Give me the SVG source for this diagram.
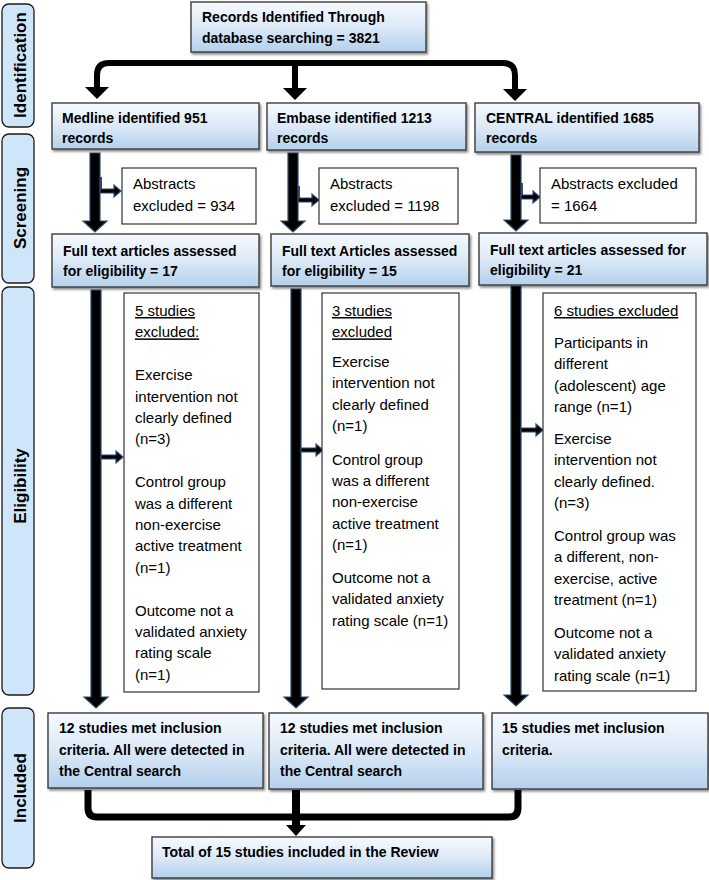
<svg xmlns="http://www.w3.org/2000/svg" width="709" height="880" viewBox="0 0 709 880">
<style>
text{font-family:"Liberation Sans",Arial,sans-serif;fill:#000}
.b{font-weight:bold;font-size:14px}
.r{font-size:15px}
.side{font-weight:bold;font-size:17px;text-anchor:middle}
.u{text-decoration:underline}
.lab{fill:#cfe6fa;stroke:#1a1a1a;stroke-width:1.3}
.nb{fill:url(#g);stroke:#3c3c3c;stroke-width:1.4;filter:url(#sh)}
.wb{fill:#fff;stroke:#333;stroke-width:1.2}
.shaft{fill:#000;stroke:#2c4d70;stroke-width:1.2}
.stub{fill:none;stroke:#2c4d70;stroke-width:2}
.line{fill:none;stroke:#000}
.head{fill:#000}
</style>
<defs>
<linearGradient id="g" x1="0" y1="0" x2="0" y2="1">
<stop offset="0" stop-color="#f6faff"/>
<stop offset="0.5" stop-color="#dce9f7"/>
<stop offset="1" stop-color="#b3d0ec"/>
</linearGradient>
<filter id="sh" x="-5%" y="-10%" width="115%" height="130%">
<feDropShadow dx="1.5" dy="2" stdDeviation="1" flood-color="#000" flood-opacity="0.45"/>
</filter>
</defs>

<!-- Side phase labels -->
<g id="phase-identification">
<rect class="lab" x="2" y="4" width="32" height="123" rx="7"/>
<text class="side" transform="translate(26,65) rotate(-90)">Identification</text>
</g>
<g id="phase-screening">
<rect class="lab" x="2" y="134" width="32" height="149" rx="7"/>
<text class="side" transform="translate(26,208) rotate(-90)">Screening</text>
</g>
<g id="phase-eligibility">
<rect class="lab" x="2" y="287" width="32" height="408" rx="7"/>
<text class="side" transform="translate(26,486) rotate(-90)">Eligibility</text>
</g>
<g id="phase-included">
<rect class="lab" x="2" y="708" width="32" height="160" rx="7"/>
<text class="side" transform="translate(26,788) rotate(-90)">Included</text>
</g>

<!-- Connectors -->
<g id="connectors">
<path class="line" stroke-width="6" d="M97,88 V75 Q97,63 109,63 H503 Q515,63 515,75 V89"/>
<path class="line" stroke-width="6" d="M295,63 V89"/>
<polygon class="head" points="85,87 109,87 97,99"/>
<polygon class="head" points="283,88 307,88 295,100"/>
<polygon class="head" points="503,89 527,89 515,101"/>

<!-- screening shafts -->
<polygon class="shaft" points="90,153 100,153 100,221 107,221 95,232 83,221 90,221"/>
<polygon class="shaft" points="288,153 298,153 298,221 305,221 293,232 281,221 288,221"/>
<polygon class="shaft" points="511,155 521,155 521,220 528,220 516,231 504,220 511,220"/>
<path class="stub" d="M101,177 V189"/>
<polygon class="shaft" points="100,189 114,189 114,185 121,191 114,197 114,193 100,193"/>
<path class="stub" d="M299,186 V198"/>
<polygon class="shaft" points="298,198 312,198 312,194 319,200 312,206 312,202 298,202"/>
<path class="stub" d="M522,183 V195"/>
<polygon class="shaft" points="521,195 533,195 533,191 540,197 533,203 533,199 521,199"/>

<!-- eligibility shafts -->
<polygon class="shaft" points="91,290 101,290 101,697 108,697 96,708 84,697 91,697"/>
<polygon class="shaft" points="291,289 301,289 301,697 308,697 296,708 284,697 291,697"/>
<polygon class="shaft" points="511,286 521,286 521,695 528,695 516,706 504,695 511,695"/>
<polygon class="shaft" points="101,455 116,455 116,451 123,457 116,463 116,459 101,459"/>
<polygon class="shaft" points="301,448 316,448 316,444 323,450 316,456 316,452 301,452"/>
<polygon class="shaft" points="521,428 536,428 536,424 543,430 536,436 536,432 521,432"/>

<!-- included to total -->
<path class="line" stroke-width="7" d="M88,790 V808 Q88,817 97,817 H509 Q518,817 518,808 V790"/>
<path class="line" stroke-width="8" d="M296,790 V826"/>
<polygon class="head" points="286,825 306,825 296,836"/>
</g>

<!-- Nodes -->
<g id="records-total">
<rect class="nb" x="191" y="2" width="235" height="50"/>
<text class="b" x="202" y="22">Records Identified Through</text>
<text class="b" x="202" y="43">database searching = 3821</text>
</g>

<g id="medline">
<rect class="nb" x="52" y="103" width="207" height="46"/>
<text class="b" x="62" y="123">Medline identified 951</text>
<text class="b" x="62" y="143">records</text>
</g>
<g id="embase">
<rect class="nb" x="267" y="103" width="199" height="47"/>
<text class="b" x="277" y="123">Embase identified 1213</text>
<text class="b" x="277" y="143">records</text>
</g>
<g id="central">
<rect class="nb" x="475" y="103" width="224" height="49"/>
<text class="b" x="486" y="123">CENTRAL identified 1685</text>
<text class="b" x="486" y="143">records</text>
</g>

<g id="medline-abstracts-excluded">
<rect class="wb" x="122" y="168" width="134" height="56"/>
<text class="r" x="133" y="189">Abstracts</text>
<text class="r" x="133" y="211">excluded = 934</text>
</g>
<g id="embase-abstracts-excluded">
<rect class="wb" x="319" y="168" width="139" height="56"/>
<text class="r" x="330" y="189">Abstracts</text>
<text class="r" x="330" y="211">excluded = 1198</text>
</g>
<g id="central-abstracts-excluded">
<rect class="wb" x="540" y="168" width="156" height="55"/>
<text class="r" x="551" y="189">Abstracts excluded</text>
<text class="r" x="551" y="211">= 1664</text>
</g>

<g id="medline-fulltext">
<rect class="nb" x="52" y="234" width="207" height="53"/>
<text class="b" x="63" y="256">Full text articles assessed</text>
<text class="b" x="63" y="276">for eligibility = 17</text>
</g>
<g id="embase-fulltext">
<rect class="nb" x="271" y="234" width="198" height="52"/>
<text class="b" x="282" y="256">Full text Articles assessed</text>
<text class="b" x="282" y="276">for eligibility = 15</text>
</g>
<g id="central-fulltext">
<rect class="nb" x="479" y="233" width="228" height="52"/>
<text class="b" x="490" y="255">Full text articles assessed for</text>
<text class="b" x="490" y="275">eligibility = 21</text>
</g>

<g id="medline-excluded">
<rect class="wb" x="124" y="293" width="135" height="399"/>
<text class="r u" x="135" y="316">5 studies</text>
<text class="r u" x="135" y="337.4">excluded:</text>
<text class="r" x="135" y="380.2">Exercise</text>
<text class="r" x="135" y="401.6">intervention not</text>
<text class="r" x="135" y="423">clearly defined</text>
<text class="r" x="135" y="444.4">(n=3)</text>
<text class="r" x="135" y="487.2">Control group</text>
<text class="r" x="135" y="508.6">was a different</text>
<text class="r" x="135" y="530">non-exercise</text>
<text class="r" x="135" y="551.4">active treatment</text>
<text class="r" x="135" y="572.8">(n=1)</text>
<text class="r" x="135" y="615.6">Outcome not a</text>
<text class="r" x="135" y="637">validated anxiety</text>
<text class="r" x="135" y="658.4">rating scale</text>
<text class="r" x="135" y="679.8">(n=1)</text>
</g>
<g id="embase-excluded">
<rect class="wb" x="322" y="293" width="137" height="396"/>
<text class="r u" x="332" y="316">3 studies</text>
<text class="r u" x="332" y="337.4">excluded</text>
<text class="r" x="332" y="367">Exercise</text>
<text class="r" x="332" y="388.4">intervention not</text>
<text class="r" x="332" y="409.8">clearly defined</text>
<text class="r" x="332" y="431.2">(n=1)</text>
<text class="r" x="332" y="464.5">Control group</text>
<text class="r" x="332" y="485.9">was a different</text>
<text class="r" x="332" y="507.3">non-exercise</text>
<text class="r" x="332" y="528.7">active treatment</text>
<text class="r" x="332" y="550.1">(n=1)</text>
<text class="r" x="332" y="583">Outcome not a</text>
<text class="r" x="332" y="604.4">validated anxiety</text>
<text class="r" x="332" y="625.8">rating scale (n=1)</text>
</g>
<g id="central-excluded">
<rect class="wb" x="543" y="293" width="153" height="398"/>
<text class="r u" x="554" y="316">6 studies excluded</text>
<text class="r" x="554" y="348">Participants in</text>
<text class="r" x="554" y="369.4">different</text>
<text class="r" x="554" y="390.8">(adolescent) age</text>
<text class="r" x="554" y="412.2">range (n=1)</text>
<text class="r" x="554" y="444">Exercise</text>
<text class="r" x="554" y="465.4">intervention not</text>
<text class="r" x="554" y="486.8">clearly defined.</text>
<text class="r" x="554" y="508.2">(n=3)</text>
<text class="r" x="554" y="541">Control group was</text>
<text class="r" x="554" y="562.4">a different, non-</text>
<text class="r" x="554" y="583.8">exercise, active</text>
<text class="r" x="554" y="605.2">treatment (n=1)</text>
<text class="r" x="554" y="638">Outcome not a</text>
<text class="r" x="554" y="659.4">validated anxiety</text>
<text class="r" x="554" y="680.8">rating scale (n=1)</text>
</g>

<g id="medline-included">
<rect class="nb" x="48" y="713" width="215" height="75"/>
<text class="b" x="59" y="733">12 studies met inclusion</text>
<text class="b" x="59" y="755">criteria. All were detected in</text>
<text class="b" x="59" y="776">the Central search</text>
</g>
<g id="embase-included">
<rect class="nb" x="269" y="713" width="214" height="76"/>
<text class="b" x="280" y="733">12 studies met inclusion</text>
<text class="b" x="280" y="755">criteria. All were detected in</text>
<text class="b" x="280" y="776">the Central search</text>
</g>
<g id="central-included">
<rect class="nb" x="492" y="713" width="216" height="76"/>
<text class="b" x="502" y="733">15 studies met inclusion</text>
<text class="b" x="502" y="755">criteria.</text>
</g>

<g id="total-included">
<rect class="nb" x="152" y="837" width="340" height="41"/>
<text class="b" x="162" y="857">Total of 15 studies included in the Review</text>
</g>
</svg>
